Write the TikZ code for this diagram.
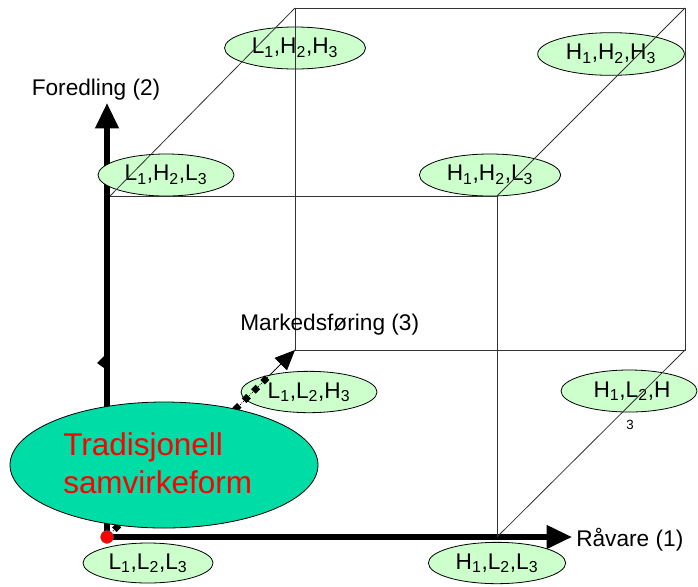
\documentclass[tikz,border=0pt]{standalone}
\usepackage{fontspec}
\setmainfont{Liberation Sans}
\usetikzlibrary{shapes.geometric,arrows.meta,decorations.markings,calc}
\definecolor{lightg}{HTML}{CCFFCC}
\definecolor{bigg}{RGB}{0,220,165}
\definecolor{cubeline}{HTML}{333333}
\tikzset{
  st/.style={ellipse, draw=black, line width=0.6pt, fill=lightg, inner sep=0pt,
    font=\fontsize{17}{19}\selectfont},
  cube/.style={draw=cubeline, line width=0.6pt},
  axis/.style={line width=3.9pt, -{Triangle[length=19pt,width=17pt]}},
  lab/.style={font=\fontsize{17}{19}\selectfont, inner sep=0pt},
}
\newcommand{\sbs}[1]{\textsubscript{#1}}
\begin{document}
\begin{tikzpicture}[x=0.75pt,y=-0.75pt]
\useasboundingbox (0,0) rectangle (698,586);
% corner coordinates of the cube
\coordinate (O) at (107,537);
\coordinate (FTL) at (110,196);
\coordinate (FTR) at (497,196);
\coordinate (FBR) at (497,537);
\coordinate (BTL) at (295,8);
\coordinate (BTR) at (685,8);
\coordinate (BBL) at (295,350);
\coordinate (BBR) at (685,350);
\coordinate (Ytip) at (107,103);
\coordinate (Xtip) at (572,537);
\coordinate (Zstart) at (113,531);
% axes
\draw[axis] (O) -- (Ytip);
\draw[axis] (O) -- (Xtip);
\fill (104,356) -- (97,363) -- (104,368) -- cycle;
% small ellipses
\node[st, minimum width=105.75pt, minimum height=31.5pt] (e1) at (295,48) {L\sbs{1},H\sbs{2},H\sbs{3}};
\node[st, minimum width=110pt, minimum height=32pt] (e2) at (611,54) {H\sbs{1},H\sbs{2},H\sbs{3}};
\node[st, minimum width=102pt, minimum height=31.5pt] (e3) at (166,175) {L\sbs{1},H\sbs{2},L\sbs{3}};
\node[st, minimum width=106pt, minimum height=31.5pt] (e4) at (490,175) {H\sbs{1},H\sbs{2},L\sbs{3}};
\node[st, minimum width=102pt, minimum height=31pt] (e5) at (309,392) {L\sbs{1},L\sbs{2},H\sbs{3}};
\node[st, minimum width=102pt, minimum height=31.5pt] (e6) at (629,391) {};
\node[font=\fontsize{17}{19}\selectfont, inner sep=0pt] (e6t) at (632,391) {H\sbs{1},L\sbs{2},H};
\node[font=\fontsize{10}{12}\selectfont, inner sep=0pt] (e6s) at (630,425) {3};
\node[st, minimum width=97.5pt, minimum height=30pt] (e7) at (148,563) {L\sbs{1},L\sbs{2},L\sbs{3}};
\node[st, minimum width=103pt, minimum height=31pt] (e8) at (497,563) {H\sbs{1},L\sbs{2},L\sbs{3}};
% cube lines
\draw[cube] (FTL) -- (FTR) -- (FBR);
\draw[cube] (BTL) -- (BTR) -- (BBR) -- (BBL) -- cycle;
\draw[cube] (FTL) -- (BTL);
\draw[cube] (FTR) -- (BTR);
\draw[cube] (FBR) -- (BBR);
% dotted arrow (Markedsforing)
\draw[line width=0.6pt, densely dotted,
  postaction={decorate, decoration={markings,
    mark=between positions 0.02 and 0.87 step 9.8pt with {\fill (-2.4pt,-2.4pt) rectangle (2.4pt,2.4pt);}}}]
  (Zstart) -- (BBL);
\draw[-{Triangle[length=15pt,width=13pt]}, line width=0.6pt] ($(Zstart)!0.86!(BBL)$) -- (BBL);
% big ellipse
\node[ellipse, draw=black, line width=0.6pt, fill=bigg, minimum width=231pt, minimum height=94.5pt, inner sep=0pt] (big) at (164,465) {};
\node[font=\fontsize{23.6}{28.5}\selectfont, text=red, align=left, inner sep=0pt, anchor=west] (bigt) at (63,463) {Tradisjonell\\samvirkeform};
% origin dot
\fill[red, draw=black!60, line width=0.3pt] (O) circle[radius=4.8pt];
% axis labels
\node[lab] (ly) at (96,90) {Foredling (2)};
\node[lab, anchor=west] (lx) at (576,540) {Råvare (1)};
\node[lab, anchor=west] (lz) at (240,325) {Markedsføring (3)};
\end{tikzpicture}
\end{document}
